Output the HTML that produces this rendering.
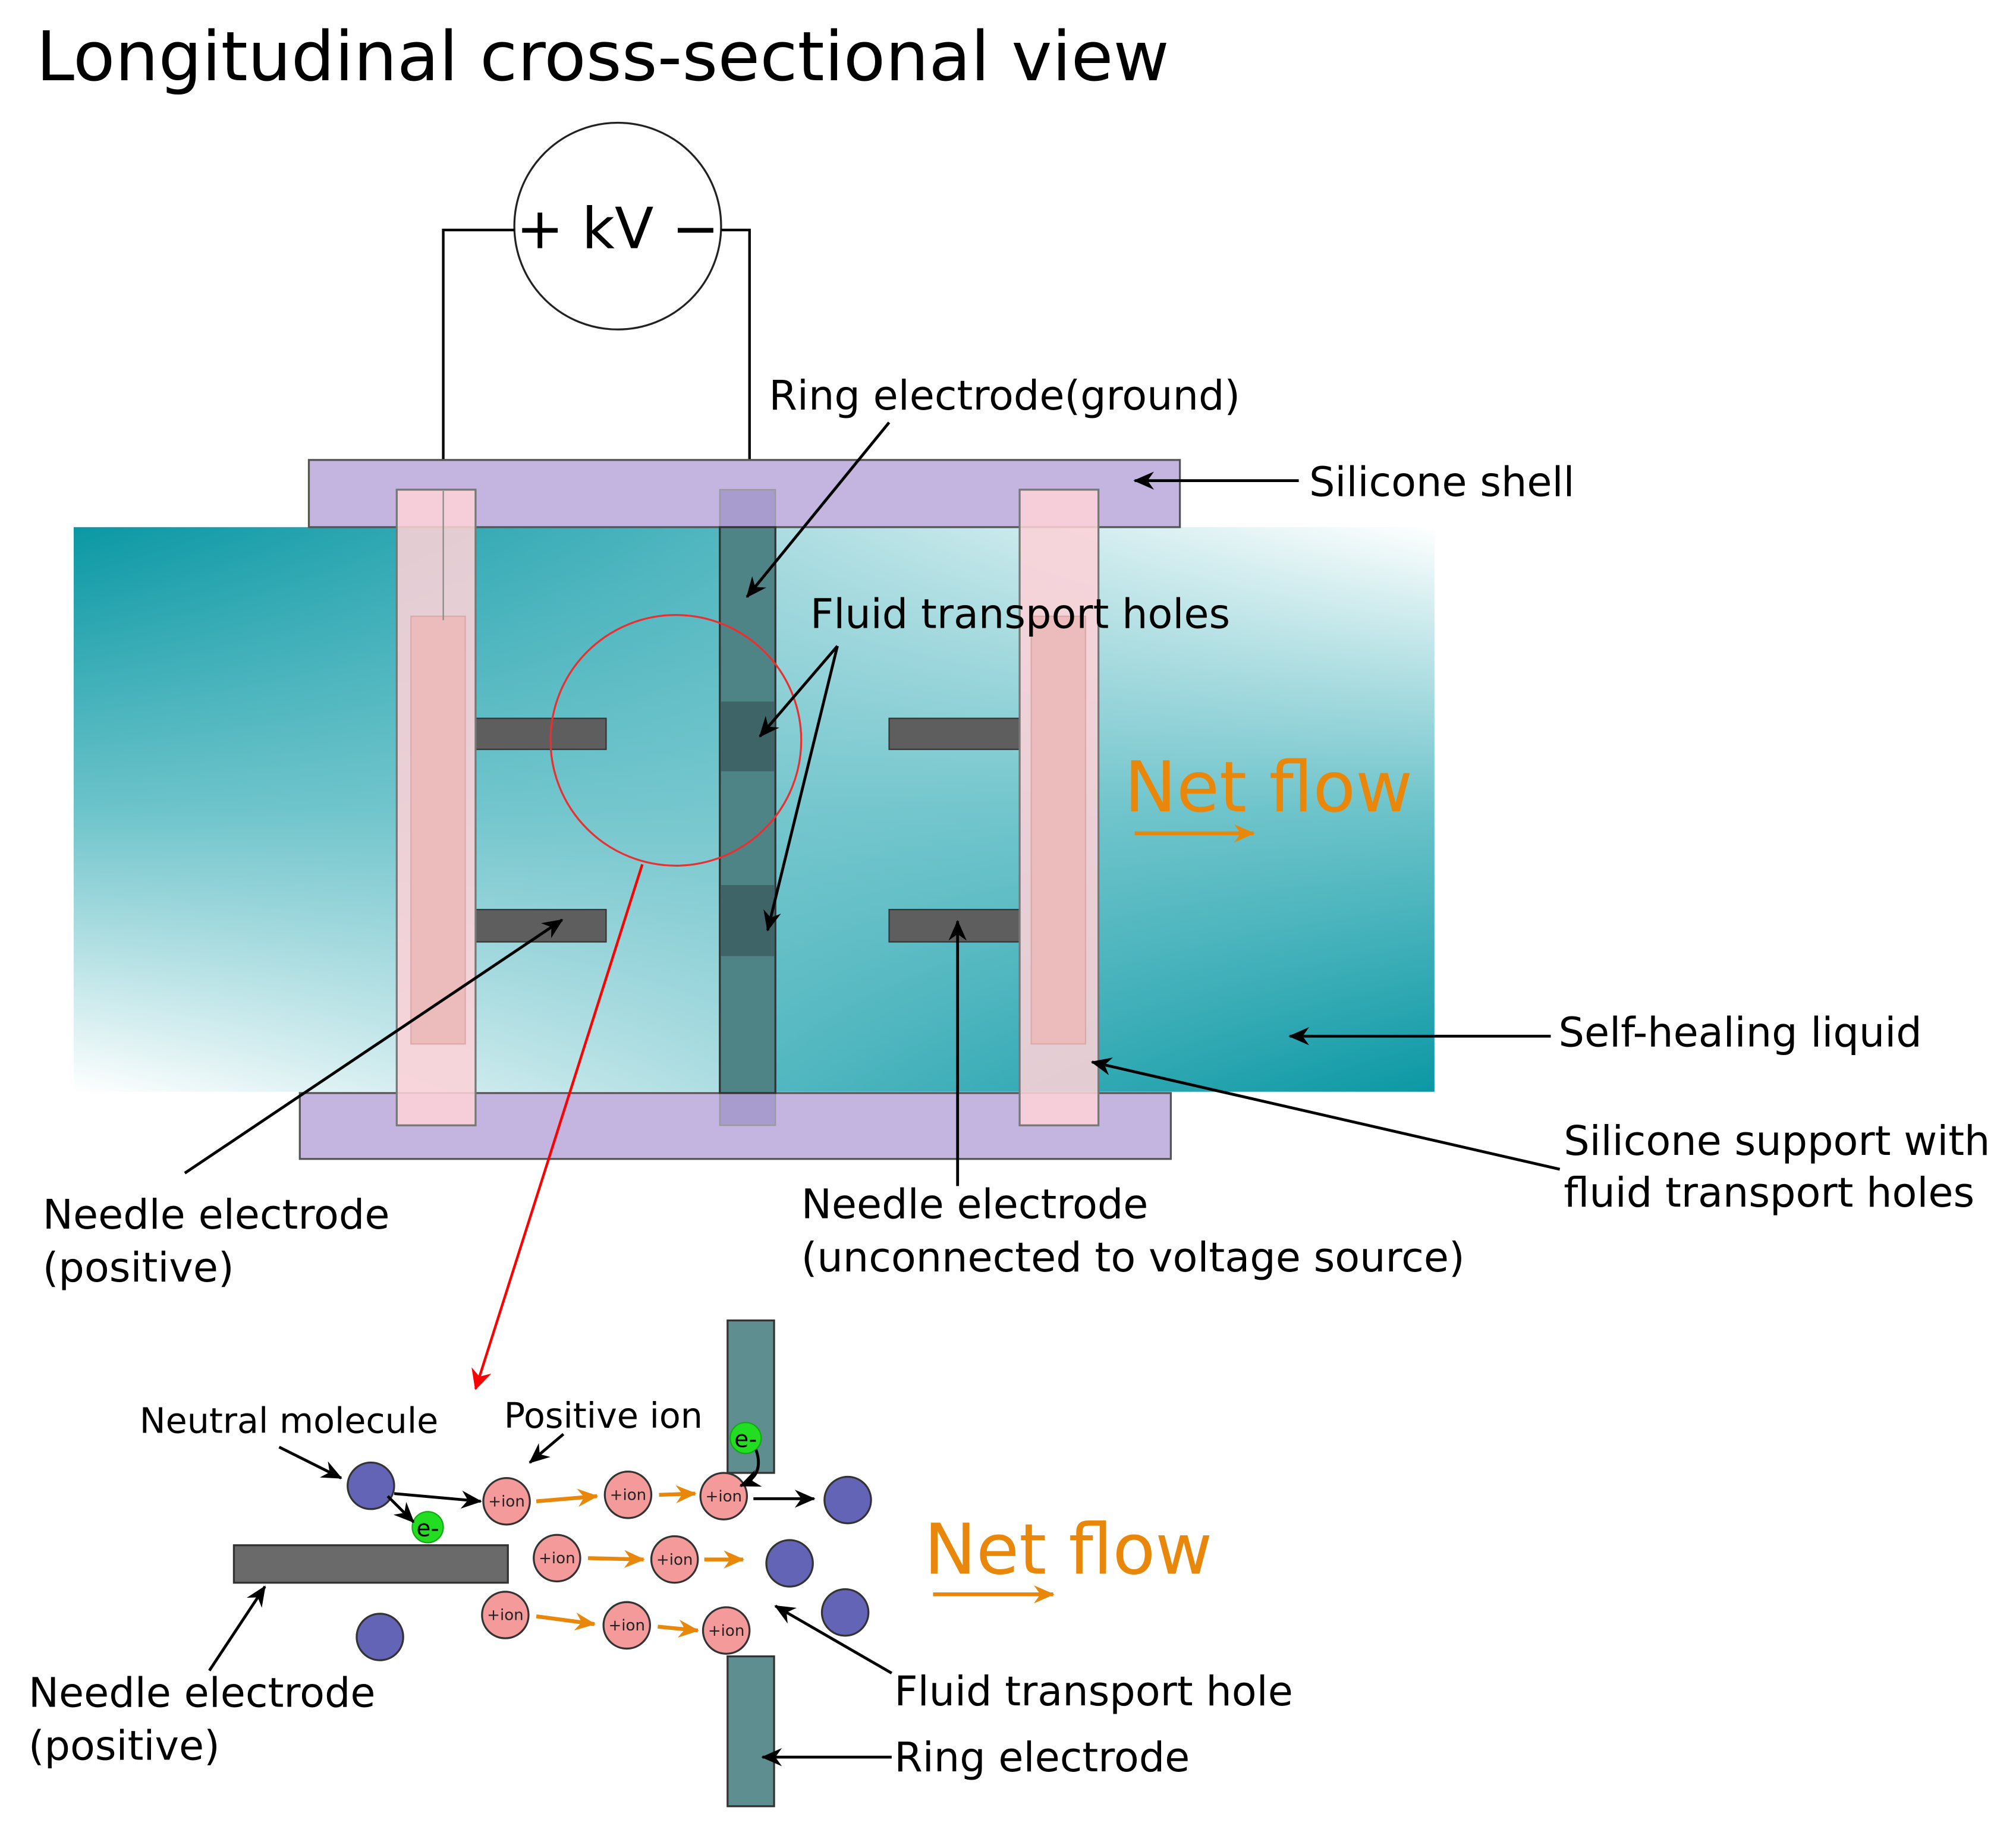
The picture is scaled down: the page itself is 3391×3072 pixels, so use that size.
<!DOCTYPE html>
<html><head><meta charset="utf-8"><style>html,body{margin:0;padding:0;background:#fff}svg{display:block}</style></head>
<body>
<svg width="3391" height="3072" viewBox="0 0 1560 1413.3" preserveAspectRatio="none" xmlns="http://www.w3.org/2000/svg" font-family="'DejaVu Sans','Liberation Sans',sans-serif">
<defs>
<linearGradient id="vl" x1="0" y1="0" x2="0" y2="1">
<stop offset="0" stop-color="#0a98a4"/><stop offset="0.5" stop-color="#6cc3ca"/><stop offset="1" stop-color="#ffffff"/></linearGradient>
<linearGradient id="vr" x1="0" y1="1" x2="0" y2="0">
<stop offset="0" stop-color="#0a98a4"/><stop offset="0.5" stop-color="#6cc3ca"/><stop offset="1" stop-color="#ffffff"/></linearGradient>
<linearGradient id="hl" x1="0" y1="0" x2="1" y2="0">
<stop offset="0" stop-color="#7cc9d0" stop-opacity="0"/><stop offset="1" stop-color="#7cc9d0" stop-opacity="0.65"/></linearGradient>
<linearGradient id="hr" x1="1" y1="0" x2="0" y2="0">
<stop offset="0" stop-color="#7cc9d0" stop-opacity="0"/><stop offset="1" stop-color="#7cc9d0" stop-opacity="0.65"/></linearGradient>
<marker id="ab" markerWidth="16" markerHeight="14" refX="15" refY="7" orient="auto" markerUnits="userSpaceOnUse"><path d="M0,0 L16,7 L0,14 L5,7 z" fill="#000"/></marker>
<marker id="ar" markerWidth="16" markerHeight="16" refX="15" refY="8" orient="auto" markerUnits="userSpaceOnUse"><path d="M0,0 L16,8 L0,16 L5,8 z" fill="#f00"/></marker>
<marker id="ao" markerWidth="16" markerHeight="14" refX="15" refY="7" orient="auto" markerUnits="userSpaceOnUse"><path d="M0,0 L16,7 L0,14 L5,7 z" fill="#e8870a"/></marker>
</defs>
<text x="28" y="62" font-size="53">Longitudinal cross-sectional view</text>
<circle cx="478" cy="175" r="80" fill="#fff" stroke="#222" stroke-width="1.5"/>
<text x="478" y="192" font-size="44" text-anchor="middle">+ kV −</text>
<polyline points="398,178 343,178 343,480" fill="none" stroke="#000" stroke-width="2"/>
<polyline points="558,178 580,178 580,380" fill="none" stroke="#000" stroke-width="2"/>
<rect x="57" y="408" width="527" height="437" fill="url(#vl)"/>
<rect x="57" y="408" width="527" height="437" fill="url(#hl)"/>
<rect x="584" y="408" width="526" height="437" fill="url(#vr)"/>
<rect x="584" y="408" width="526" height="437" fill="url(#hr)"/>
<rect x="239" y="356" width="674" height="52" fill="#c3b5e0" stroke="#555" stroke-width="1.5"/>
<rect x="232" y="846" width="674" height="51" fill="#c3b5e0" stroke="#555" stroke-width="1.5"/>
<rect x="557" y="379" width="43" height="29" fill="#a89ccf" stroke="#999"/>
<rect x="557" y="846" width="43" height="25" fill="#a89ccf" stroke="#999"/>
<rect x="557" y="408" width="43" height="438" fill="#4f8486" stroke="#333" stroke-width="1.5"/>
<rect x="558" y="543" width="41" height="54" fill="#3e6467"/>
<rect x="558" y="685" width="41" height="55" fill="#3e6467"/>
<rect x="368" y="556" width="101" height="24" fill="#5e5e5e" stroke="#333"/>
<rect x="368" y="704" width="101" height="25" fill="#5e5e5e" stroke="#333"/>
<rect x="688" y="556" width="101" height="24" fill="#5e5e5e" stroke="#333"/>
<rect x="688" y="704" width="101" height="25" fill="#5e5e5e" stroke="#333"/>
<rect x="307" y="379" width="61" height="492" fill="#fcd2d7" fill-opacity="0.88" stroke="#777" stroke-width="1.5"/>
<rect x="318" y="477" width="42" height="331" fill="#ecbcbc" stroke="#d8aaaa"/>
<rect x="789" y="379" width="61" height="492" fill="#fcd2d7" fill-opacity="0.88" stroke="#777" stroke-width="1.5"/>
<rect x="798" y="477" width="42" height="331" fill="#ecbcbc" stroke="#d8aaaa"/>
<line x1="343" y1="380" x2="343" y2="480" stroke="#888" stroke-width="1"/>
<circle cx="523" cy="573" r="97" fill="none" stroke="#e83030" stroke-width="1.5"/>
<line x1="497" y1="669" x2="368" y2="1075" stroke="#f00" stroke-width="2" marker-end="url(#ar)"/>
<g font-size="31.5">
<text x="595" y="317">Ring electrode(ground)</text>
<text x="1013" y="384">Silicone shell</text>
<text x="627" y="486">Fluid transport holes</text>
<text x="1206" y="810">Self-healing liquid</text>
<text x="1210" y="894">Silicone support with</text>
<text x="1210" y="934">fluid transport holes</text>
<text x="33" y="951">Needle electrode</text>
<text x="33" y="992">(positive)</text>
<text x="620" y="943">Needle electrode</text>
<text x="620" y="984">(unconnected to voltage source)</text>
<text x="692" y="1320">Fluid transport hole</text>
<text x="692" y="1371">Ring electrode</text>
<text x="22" y="1321">Needle electrode</text>
<text x="22" y="1362">(positive)</text>
</g>
<text x="108" y="1109" font-size="27">Neutral molecule</text>
<text x="390" y="1105" font-size="27">Positive ion</text>
<text x="870" y="628" font-size="54" fill="#e8870a">Net flow</text>
<text x="715" y="1218" font-size="54" fill="#e8870a">Net flow</text>
<line x1="878" y1="645" x2="970" y2="645" stroke="#e8870a" stroke-width="3" marker-end="url(#ao)"/>
<line x1="722" y1="1234" x2="815" y2="1234" stroke="#e8870a" stroke-width="3" marker-end="url(#ao)"/>
<rect x="563" y="1022" width="36" height="118" fill="#5f8e91" stroke="#333" stroke-width="1.5"/>
<rect x="563" y="1282" width="36" height="116" fill="#5f8e91" stroke="#333" stroke-width="1.5"/>
<rect x="181" y="1196" width="212" height="29" fill="#6a6a6a" stroke="#333" stroke-width="1.5"/>
<g fill="#6464b6" stroke="#333" stroke-width="1.5">
<circle cx="287" cy="1150" r="18"/><circle cx="656" cy="1161" r="18"/><circle cx="611" cy="1210" r="18"/><circle cx="654" cy="1248" r="18"/><circle cx="294" cy="1267" r="18"/>
</g>
<g stroke="#e8870a" stroke-width="3" marker-end="url(#ao)">
<line x1="415" y1="1162" x2="462" y2="1158"/>
<line x1="510" y1="1157" x2="538" y2="1156"/>
<line x1="455" y1="1206" x2="498" y2="1207"/>
<line x1="545" y1="1207" x2="575" y2="1207"/>
<line x1="415" y1="1251" x2="460" y2="1257"/>
<line x1="509" y1="1259" x2="540" y2="1262"/>
</g>
<g fill="#f49a9a" stroke="#333" stroke-width="1.5">
<circle cx="392" cy="1162" r="18"/><circle cx="486" cy="1157" r="18"/><circle cx="560" cy="1158" r="18"/><circle cx="431" cy="1206" r="18"/><circle cx="522" cy="1207" r="18"/><circle cx="391" cy="1250" r="18"/><circle cx="485" cy="1258" r="18"/><circle cx="562" cy="1262" r="18"/>
</g>
<g font-size="12" text-anchor="middle" fill="#222">
<text x="392" y="1166">+ion</text><text x="486" y="1161">+ion</text><text x="560" y="1162">+ion</text><text x="431" y="1210">+ion</text><text x="522" y="1211">+ion</text><text x="391" y="1254">+ion</text><text x="485" y="1262">+ion</text><text x="562" y="1266">+ion</text>
</g>
<circle cx="331" cy="1182" r="12" fill="#22dd22" stroke="#1a1"/>
<circle cx="577" cy="1113" r="12" fill="#22dd22" stroke="#1a1"/>
<text x="331" y="1189" font-size="18" text-anchor="middle">e-</text>
<text x="577" y="1120" font-size="18" text-anchor="middle">e-</text>
<g stroke="#000" stroke-width="2.2" fill="none" marker-end="url(#ab)">
<line x1="688" y1="327" x2="578" y2="462"/>
<line x1="1005" y1="372" x2="878" y2="372"/>
<line x1="648" y1="500" x2="588" y2="570"/>
<line x1="648" y1="500" x2="594" y2="720"/>
<line x1="1200" y1="802" x2="998" y2="802"/>
<line x1="1207" y1="905" x2="845" y2="822"/>
<line x1="143" y1="908" x2="435" y2="712"/>
<line x1="741" y1="918" x2="741" y2="713"/>
<line x1="690" y1="1295" x2="600" y2="1243"/>
<line x1="690" y1="1360" x2="590" y2="1360"/>
<line x1="162" y1="1293" x2="205" y2="1228"/>
<line x1="216" y1="1120" x2="264" y2="1144"/>
<line x1="436" y1="1110" x2="410" y2="1132"/>
<line x1="305" y1="1156" x2="372" y2="1162"/>
<line x1="300" y1="1158" x2="320" y2="1178"/>
<line x1="583" y1="1160" x2="630" y2="1160"/>
<path d="M585,1122 Q592,1142 573,1150"/>
</g>
</svg>
</body></html>
